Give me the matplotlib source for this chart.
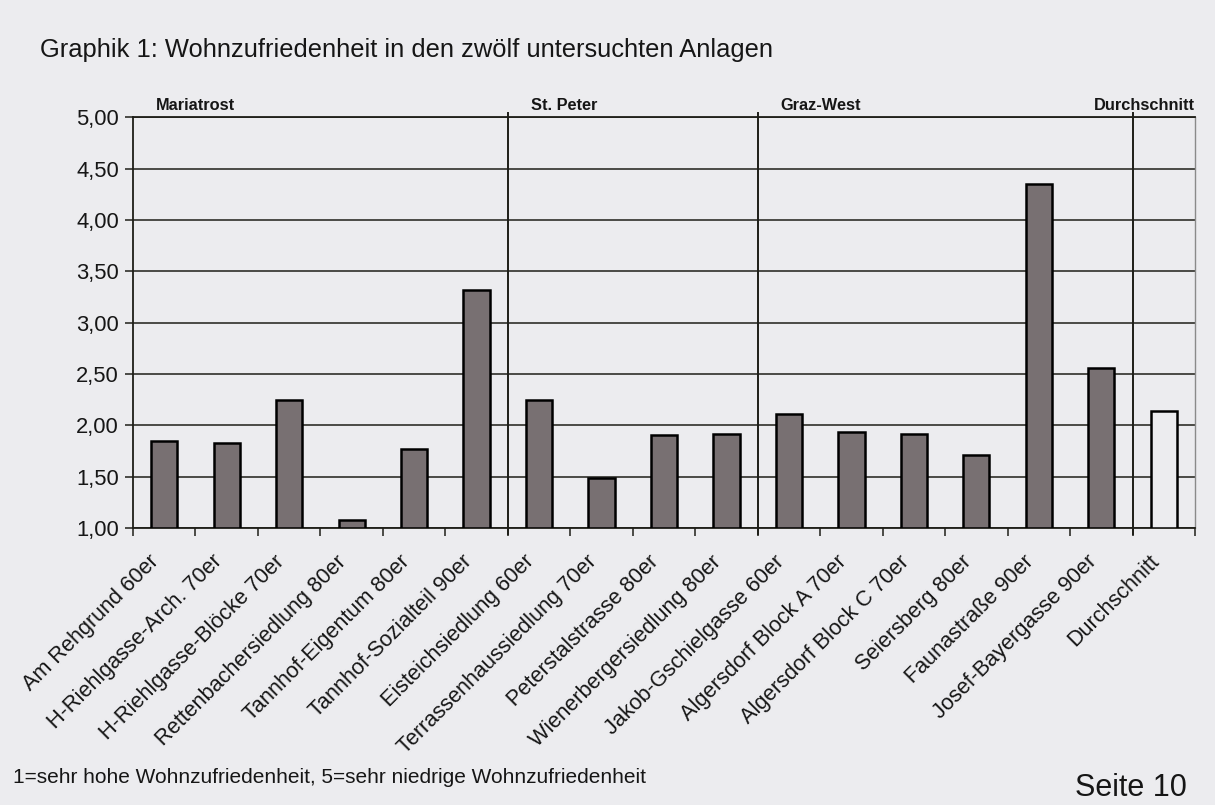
import numpy as np
import matplotlib
matplotlib.use("Agg")
import matplotlib.pyplot as plt
from matplotlib.ticker import FixedLocator, FuncFormatter
import matplotlib.transforms as mtransforms

plt.rcParams['font.family'] = ['Liberation Sans', 'DejaVu Sans']

# Anlagen und mittlere Wohnzufriedenheit (1 = sehr hoch, 5 = sehr niedrig)
anlagen = [
    "Am Rehgrund 60er", "H-Riehlgasse-Arch. 70er", "H-Riehlgasse-Blöcke 70er",
    "Rettenbachersiedlung 80er", "Tannhof-Eigentum 80er", "Tannhof-Sozialteil 90er",
    "Eisteichsiedlung 60er", "Terrassenhaussiedlung 70er", "Peterstalstrasse 80er",
    "Wienerbergersiedlung 80er", "Jakob-Gschielgasse 60er", "Algersdorf Block A 70er",
    "Algersdorf Block C 70er", "Seiersberg 80er", "Faunastraße 90er",
    "Josef-Bayergasse 90er", "Durchschnitt",
]
zufriedenheit = [1.85, 1.83, 2.25, 1.08, 1.77, 3.32,
                 2.25, 1.49, 1.91, 1.92,
                 2.11, 1.94, 1.92, 1.71, 4.35, 2.56,
                 2.14]
gebiete = ["Mariatrost", "St. Peter", "Graz-West", "Durchschnitt"]
gebiet_groesse = [6, 4, 6, 1]
y_ticks = [1.0, 1.5, 2.0, 2.5, 3.0, 3.5, 4.0, 4.5, 5.0]

paper = '#ececef'
bar_grey = '#787072'
line_col = '#1e1e18'
text_col = '#161616'

W, H = 1215, 805
fig = plt.figure(figsize=(W / 100, H / 100), dpi=100, facecolor=paper)
ax = fig.add_axes([133 / W, 1 - 528 / H, (1195 - 133) / W, (528 - 117.5) / H])
ax.set_facecolor(paper)

x = np.arange(len(anlagen))
vals = np.array(zufriedenheit)
base = y_ticks[0]
colors = [bar_grey] * (len(anlagen) - 1) + [paper]
ax.bar(x, vals - base, bottom=base, width=0.42, color=colors,
       edgecolor='black', linewidth=1.8, zorder=3)

ax.set_xlim(-0.5, len(anlagen) - 0.5)
ax.set_ylim(y_ticks[0], y_ticks[-1])

# horizontal grid
ax.yaxis.set_major_locator(FixedLocator(y_ticks))
ax.yaxis.set_major_formatter(FuncFormatter(lambda v, p: f"{v:.2f}".replace('.', ',')))
ax.grid(axis='y', color=line_col, linewidth=1.1, zorder=1)
ax.tick_params(axis='y', direction='out', length=6, width=1.1, color=line_col,
               labelsize=15.8, pad=4, labelcolor=text_col)

# category labels at centres, boundary ticks as minor ticks
ax.set_xticks(x)
ax.set_xticklabels(anlagen)
ax.set_xticks(np.arange(-0.5, len(anlagen)), minor=True)
ax.tick_params(axis='x', which='major', length=0, labelsize=15.6, pad=22,
               labelcolor=text_col)
ax.tick_params(axis='x', which='minor', direction='out', length=6, width=1.1,
               color=line_col)
shift = mtransforms.ScaledTranslation(-8 / 100, 0, fig.dpi_scale_trans)
for lab in ax.get_xticklabels():
    lab.set_rotation(45)
    lab.set_ha('right')
    lab.set_va('center')
    lab.set_rotation_mode('anchor')
    lab.set_transform(lab.get_transform() + shift)

for side in ['left', 'bottom', 'top']:
    ax.spines[side].set_color(line_col)
    ax.spines[side].set_linewidth(1.3)
ax.spines['right'].set_color('#8a8a8a')
ax.spines['right'].set_linewidth(1.0)

# region separators and region names
trans = mtransforms.blended_transform_factory(ax.transData, ax.transAxes)
bounds = np.cumsum(gebiet_groesse) - 0.5
starts = np.concatenate([[-0.5], bounds[:-1]])
for b in bounds[:-1]:
    ax.plot([b, b], [-0.015, 1.012], transform=trans, color=line_col,
            linewidth=1.4, clip_on=False, zorder=4)
for name, s in zip(gebiete[:-1], starts[:-1]):
    ax.text(s + 0.37, 1.012, name, transform=trans, fontsize=11.8,
            fontweight='bold', ha='left', va='bottom', color=text_col)
ax.text(1.0, 1.012, gebiete[-1], transform=ax.transAxes, fontsize=11.8,
        fontweight='bold', ha='right', va='bottom', color=text_col)

fig.text(40 / W, 1 - 56.7 / H,
         "Graphik 1: Wohnzufriedenheit in den zwölf untersuchten Anlagen",
         fontsize=18.4, ha='left', va='baseline', color=text_col)
fig.text(13 / W, 1 - 782.7 / H,
         "1=sehr hohe Wohnzufriedenheit, 5=sehr niedrige Wohnzufriedenheit",
         fontsize=15, ha='left', va='baseline', color=text_col)
fig.text(1075 / W, 2 / H, "Seite 10", fontsize=22,
         ha='left', va='bottom', color=text_col)

fig.savefig("out.png", dpi=100, facecolor=paper)
